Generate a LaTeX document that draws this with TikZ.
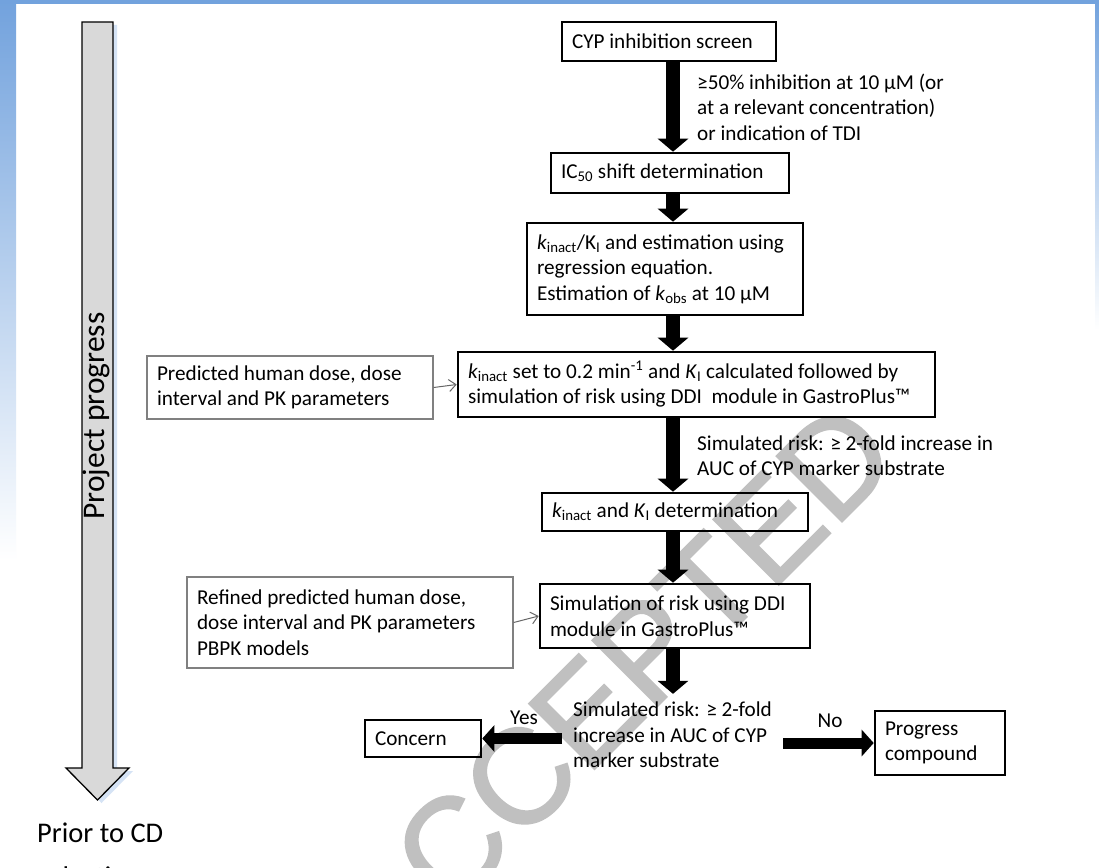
\documentclass[tikz,border=0pt]{standalone}
\usepackage{fontspec}
\setmainfont{Carlito}
\newfontfamily\markfont[FakeBold=1.6]{Liberation Sans}
\usetikzlibrary{arrows.meta,positioning,calc}
\definecolor{frameblue}{RGB}{114,162,221}
\definecolor{markgray}{RGB}{192,192,192}
\newcommand{\kinact}{\textit{k}\textsubscript{inact}}
\newcommand{\KI}{\textit{K}\textsubscript{I}}

\begin{document}
\begin{tikzpicture}[x=1pt,y=-1pt,
  font=\fontsize{21.2}{25.5}\selectfont,
  stagebox/.style={draw,line width=2.6pt,inner xsep=10pt,inner ysep=0pt,align=flush left},
  inputbox/.style={draw=black!50,line width=1.3pt,inner xsep=10pt,inner ysep=0pt,align=flush left},
  note/.style={inner sep=0pt,align=flush left,anchor=west},
  bigarrow/.style={line width=14pt,-{Triangle[width=30pt,length=13pt]}},
  sidearrow/.style={line width=11pt,-{Triangle[width=26pt,length=12pt]}},
  feed/.style={draw=black!60,line width=1pt,-{Straight Barb[length=7pt,width=12pt]}}]

  % frame
  \clip (0,0) rectangle (1099,867);
  \fill[white] (0,0) rectangle (1099,867);
  \shade[top color=frameblue,bottom color=white] (0,0) rectangle (16,560);
  \shade[top color=frameblue,bottom color=white] (1095,0) rectangle (1099,330);
  \fill[frameblue] (0,0) rectangle (1099,4);

  \node[rotate=45,text=markgray,font=\markfont\fontsize{134}{134}\selectfont] (mark) at (612,686) {ACCEPTED};

  % project progress arrow
  \fill[frameblue!30,xshift=4pt,yshift=-3pt] (82,22) -- (113,22) -- (113,768) -- (129,768) -- (97.5,800) -- (66,768) -- (82,768) -- cycle;
  \draw[fill=black!15,line width=1.3pt] (82,22) -- (113,22) -- (113,768) -- (129,768) -- (97.5,800) -- (66,768) -- (82,768) -- cycle;
  \node[rotate=90,font=\fontsize{31.5}{36}\selectfont] (pprog) at (96.5,416) {Project progress};
  \node[anchor=north west,inner sep=0pt,align=flush left,font=\fontsize{28.5}{44}\selectfont] (prior) at (37,823) {Prior to CD\\selection};

  % stages
  \node[stagebox,minimum width=214pt,minimum height=39pt,text width=194pt] (screen) at (669,41.5) {CYP inhibition screen};
  \node[stagebox,minimum width=238pt,minimum height=40pt,text width=218pt] (shift) at (670,173) {IC\textsubscript{50} shift determination};
  \node[stagebox,minimum width=276pt,minimum height=92pt,text width=256pt] (estim) at (665,269)
    {\kinact/K\textsubscript{I} and estimation using\\regression equation.\\Estimation of \textit{k}\textsubscript{obs} at 10 µM};
  \node[stagebox,minimum width=477pt,minimum height=65pt,text width=457pt] (simrisk) at (696.5,384.5)
    {\kinact{} set to 0.2 min\textsuperscript{-1} and \KI{} calculated followed by\\simulation of risk using DDI\ \ module in GastroPlus™};
  \node[stagebox,minimum width=266pt,minimum height=38pt,text width=246pt] (determ) at (675,512) {\kinact{} and \KI{} determination};
  \node[stagebox,minimum width=270pt,minimum height=64pt,text width=250pt] (ddisim) at (675,616)
    {Simulation of risk using DDI\\module in GastroPlus™};
  \node[stagebox,minimum width=116pt,minimum height=37pt,text width=96pt] (concern) at (423,738.5) {Concern};
  \node[stagebox,minimum width=130pt,minimum height=64pt,text width=110pt] (advance) at (940,743) {Progress\\compound};

  % inputs
  \node[inputbox,minimum width=286pt,minimum height=63pt,text width=266pt] (doseA) at (290,387.5)
    {Predicted human dose, dose\\interval and PK parameters};
  \node[inputbox,minimum width=326pt,minimum height=91pt,text width=306pt] (doseB) at (350,622.5)
    {Refined predicted human dose,\\dose interval and PK parameters\\PBPK models};

  % conditions
  \node[note] (cond1) at (697,107) {≥50\% inhibition at 10 µM (or\\at a relevant concentration)\\or indication of TDI};
  \node[note] (cond2) at (697,455.5) {Simulated risk: ≥ 2-fold increase in\\AUC of CYP marker substrate};
  \node[note,inner xsep=11pt,inner ysep=8pt] (decide) at (562,735)
    {Simulated risk: ≥ 2-fold\\increase in AUC of CYP\\marker substrate};
  \node (yes) at (524,718) {Yes};
  \node (no) at (830,721) {No};

  % connectors
  \coordinate (axis) at (673,0);
  \foreach \a/\b in {screen/shift,shift/estim,estim/simrisk,simrisk/determ,determ/ddisim,ddisim/decide}
    \draw[bigarrow] (\a.south -| axis) -- (\b.north -| axis);
  \draw[sidearrow] (decide.west |- concern.east) -- (concern.east);
  \draw[sidearrow] (decide.east |- advance.west) -- (advance.west);
  \draw[feed] (doseA.east) -- (simrisk.west);
  \draw[feed] (doseB.east) -- (ddisim.west);
\end{tikzpicture}
\end{document}
